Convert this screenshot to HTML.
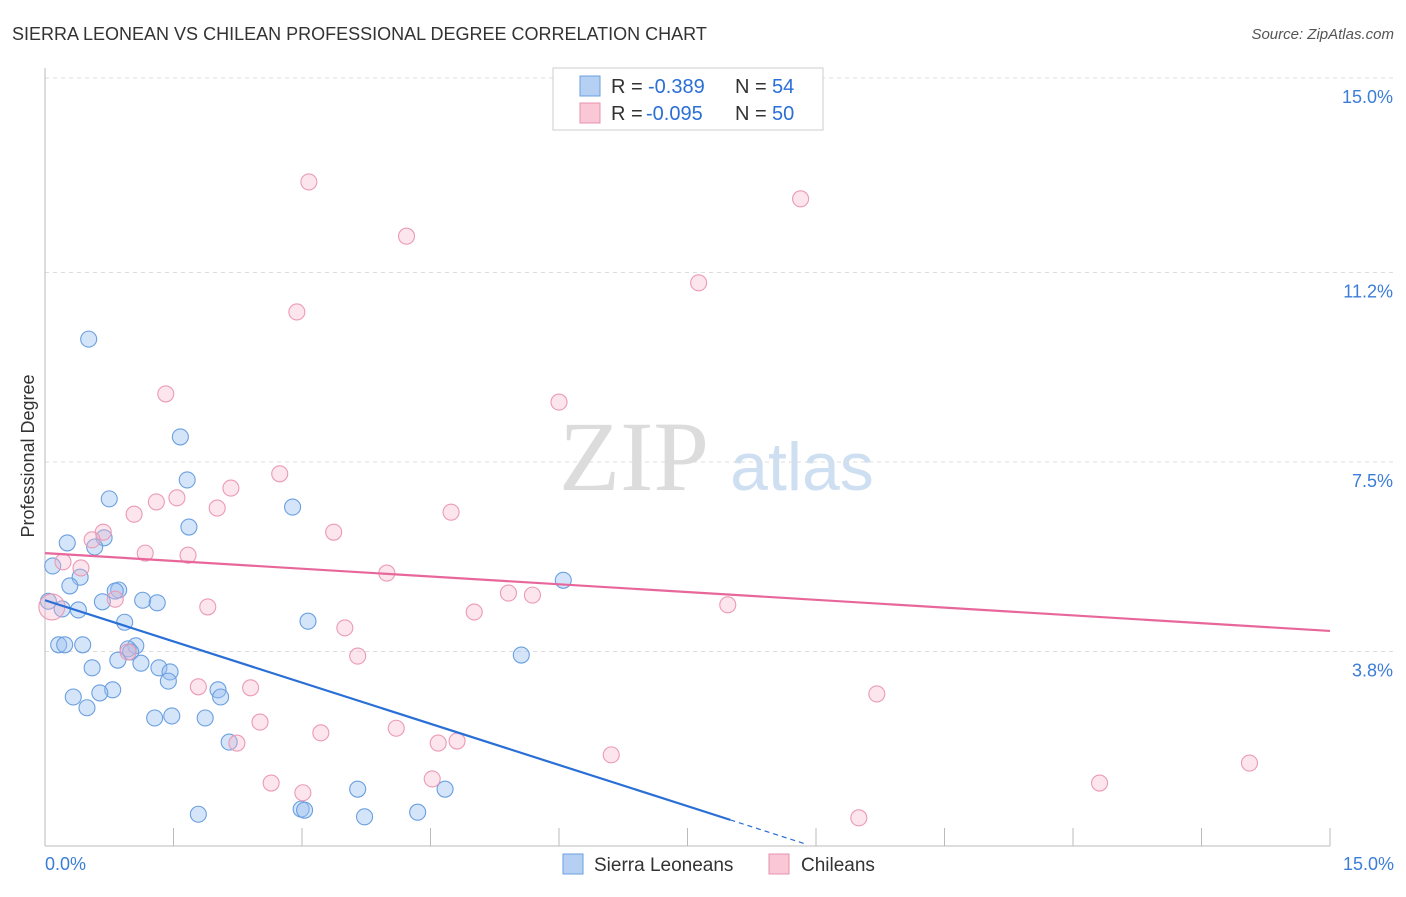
<!DOCTYPE html>
<html><head><meta charset="utf-8"><style>
body{margin:0;background:#fff;font-family:"Liberation Sans",sans-serif;}
</style></head><body>
<svg id="chart" width="1406" height="892" xmlns="http://www.w3.org/2000/svg" font-family="Liberation Sans, sans-serif">
<text x="12" y="40" font-size="18" fill="#333">SIERRA LEONEAN VS CHILEAN PROFESSIONAL DEGREE CORRELATION CHART</text>
<text x="1394" y="39" font-size="15" fill="#555" font-style="italic" text-anchor="end">Source: ZipAtlas.com</text>
<text x="634" y="490" font-size="100" fill="#dcdcdc" style="font-family:'Liberation Serif',serif" text-anchor="middle">ZIP</text>
<text x="802" y="490" font-size="68" fill="#cfdff2" text-anchor="middle">atlas</text>
<g id="grid"></g><g id="axes"></g><g id="pts"></g><g id="lines"></g>
<text transform="translate(34,456) rotate(-90)" font-size="18" fill="#333" text-anchor="middle">Professional Degree</text>
<g>
<rect x="553" y="68" width="270" height="62" fill="#fff" stroke="#ccc"/>
<rect x="580" y="76" width="20" height="20" fill="#b5d0f2" stroke="#6a9fe0"/>
<rect x="580" y="103" width="20" height="20" fill="#f9c7d6" stroke="#e890ac"/>
<text x="611" y="93" font-size="20" fill="#333">R =</text>
<text x="648" y="93" font-size="20" fill="#2a6fd6">-0.389</text>
<text x="735" y="93" font-size="20" fill="#333">N =</text>
<text x="772" y="93" font-size="20" fill="#2a6fd6">54</text>
<text x="611" y="120" font-size="20" fill="#333">R =</text>
<text x="646" y="120" font-size="20" fill="#2a6fd6">-0.095</text>
<text x="735" y="120" font-size="20" fill="#333">N =</text>
<text x="772" y="120" font-size="20" fill="#2a6fd6">50</text>
</g>
<g>
<rect x="563" y="854" width="20" height="20" fill="#b5d0f2" stroke="#6a9fe0"/>
<text x="594" y="871" font-size="19" fill="#333">Sierra Leoneans</text>
<rect x="769" y="854" width="20" height="20" fill="#f9c7d6" stroke="#e890ac"/>
<text x="801" y="871" font-size="19" fill="#333">Chileans</text>
</g>
</svg>
<script>
const yTicks=[15.0,11.2,7.5,3.8];
const yTickLabels=["15.0%","11.2%","7.5%","3.8%"];
const xTickLabels=["0.0%","15.0%"];
const blueX=[0.51,1.58,1.66,0.75,2.89,1.68,0.69,0.26,0.58,0.09,0.41,0.29,0.86,0.82,1.14,1.31,0.67,0.04,0.20,0.39,0.93,3.07,0.16,0.23,0.44,1.06,0.97,1.00,0.85,1.12,1.33,1.46,0.55,1.44,5.56,6.05,0.79,0.64,0.33,2.02,2.05,0.49,1.28,1.48,1.87,2.15,1.79,2.99,3.03,3.65,3.73,4.35,4.67];
const blueY=[9.90,7.99,7.15,6.78,6.62,6.23,6.02,5.92,5.84,5.47,5.25,5.08,5.00,4.98,4.80,4.75,4.77,4.78,4.63,4.61,4.37,4.39,3.93,3.93,3.93,3.91,3.85,3.79,3.63,3.57,3.48,3.40,3.48,3.22,3.73,5.19,3.05,2.99,2.91,3.05,2.91,2.70,2.50,2.54,2.50,2.03,0.62,0.72,0.70,1.11,0.57,0.66,1.11];
const pinkX=[3.08,8.82,4.22,7.63,2.94,1.41,6.00,2.74,2.17,1.30,1.54,2.01,4.74,1.04,0.68,3.37,0.55,1.17,1.67,0.21,0.42,3.99,5.41,5.69,0.82,1.90,5.01,7.97,0.08,3.50,3.65,0.97,1.79,2.40,9.71,2.51,3.22,4.10,4.59,4.81,2.24,6.61,2.64,3.01,4.52,14.06,12.31,9.50];
const pinkY=[12.97,12.64,11.91,11.00,10.43,8.83,8.67,7.27,6.99,6.72,6.80,6.60,6.52,6.48,6.13,6.13,5.98,5.72,5.68,5.55,5.43,5.33,4.94,4.90,4.82,4.67,4.57,4.71,4.67,4.26,3.71,3.79,3.11,3.09,2.97,2.42,2.21,2.30,2.01,2.05,2.01,1.78,1.23,1.04,1.31,1.62,1.23,0.55];
const blueTrend=[4.80,0.51];
const pinkTrend=[5.72,4.20];
const NS="http://www.w3.org/2000/svg";
const X0=45,X1=1330,Y0=846,YTOP=78;
const xs=v=>X0+(X1-X0)*v/15;
const ys=v=>Y0-(Y0-YTOP)*v/15;
function mk(parent,tag,attrs){const e=document.createElementNS(NS,tag);for(const k in attrs)e.setAttribute(k,attrs[k]);document.getElementById(parent).appendChild(e);return e;}
yTicks.forEach((t,i)=>{
 const l=mk('grid','line',{x1:X0,x2:1395,y1:ys(t),y2:ys(t),stroke:'#ddd','stroke-dasharray':'4,4'});
 
 
 const tx=mk('grid','text',{x:1393,y:ys(t)+25,'font-size':18,fill:'#3b7dd8','text-anchor':'end'});
 tx.textContent=yTickLabels[i];
 
 
});
const xa=mk('axes','line',{x1:X0,x2:X1,y1:Y0,y2:Y0,stroke:'#bbb'});


const ya=mk('axes','line',{x1:X0,x2:X0,y1:68,y2:Y0,stroke:'#bbb'});


for(let i=0;i<=10;i++){
 const t=mk('axes','line',{x1:xs(i*1.5),x2:xs(i*1.5),y1:Y0,y2:828,stroke:'#bbb'});
 
 
}
const xl0=mk('axes','text',{x:45,y:870,'font-size':18,fill:'#3b7dd8'});xl0.textContent=xTickLabels[0];


const xl1=mk('axes','text',{x:1394,y:870,'font-size':18,fill:'#3b7dd8','text-anchor':'end'});xl1.textContent=xTickLabels[1];


blueX.forEach((v,i)=>{
 const c=mk('pts','circle',{cx:xs(v),cy:ys(blueY[i]),r:8,fill:'rgba(150,190,240,0.4)',stroke:'#6a9fe0','stroke-width':1.1});
 
 
});
pinkX.forEach((v,i)=>{
 const c=mk('pts','circle',{cx:xs(v),cy:ys(pinkY[i]),r:(i==28?13:8),fill:'rgba(246,180,200,0.35)',stroke:'#eb9ab5','stroke-width':1.1});
 
 
});
const bslope=(blueTrend[1]-blueTrend[0])/8;
const bl=mk('lines','line',{x1:xs(0),y1:ys(blueTrend[0]),x2:xs(8),y2:ys(blueTrend[1]),stroke:'#2a6fd6','stroke-width':2.2});


const bd=mk('lines','line',{x1:xs(8),y1:ys(blueTrend[1]),x2:xs(8.87),y2:ys(blueTrend[0]+bslope*8.87),stroke:'#2a6fd6','stroke-width':1.2,'stroke-dasharray':'5,4'});


const pl=mk('lines','line',{x1:xs(0),y1:ys(pinkTrend[0]),x2:xs(15),y2:ys(pinkTrend[1]),stroke:'#e8679a','stroke-width':2.2});


</script>
</body></html>
